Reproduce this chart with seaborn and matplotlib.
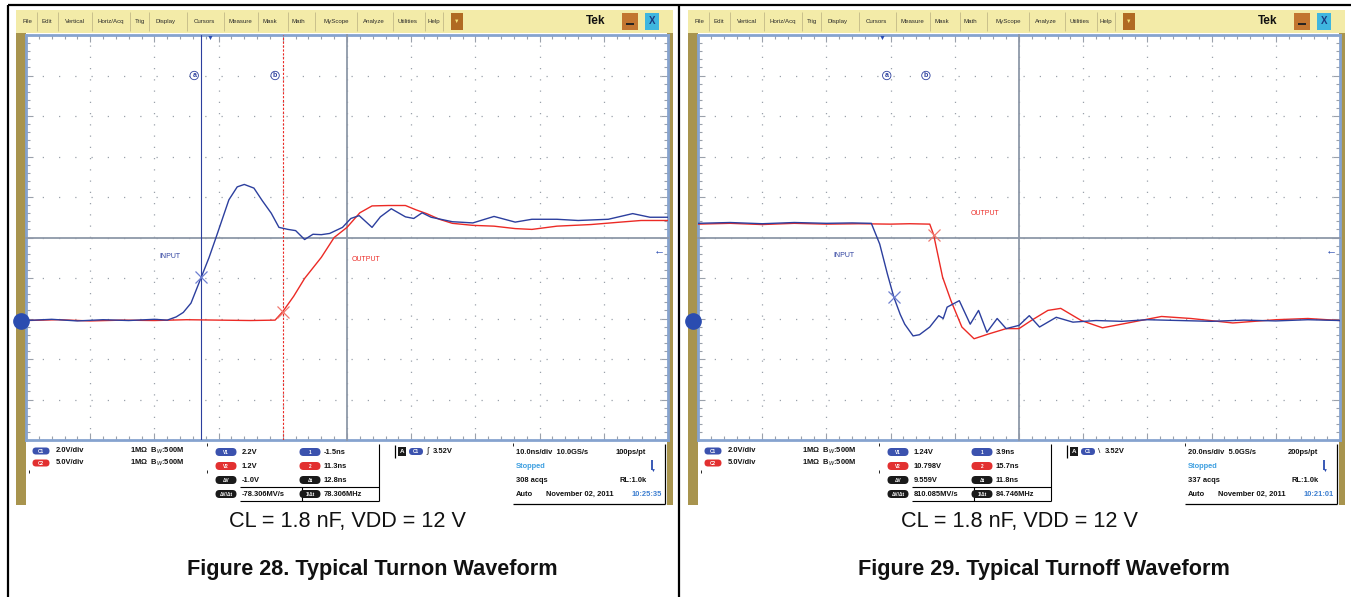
import matplotlib
matplotlib.use("Agg")
import numpy as np
import pandas as pd
import seaborn as sns
import matplotlib.pyplot as plt
from matplotlib.patches import Rectangle, FancyBboxPatch
from matplotlib.ticker import MultipleLocator, NullFormatter

# ---------------- data (graticule divisions) ----------------
# Figure 28: turn-on
on_in_t = [-5, -4.6, -4.2, -3.8, -3.4, -3.0, -2.8, -2.66, -2.55, -2.43, -2.27, -2.15, -2.04, -1.84, -1.71, -1.6,
           -1.45, -1.32, -1.18, -1.06, -0.92, -0.8, -0.66, -0.53, -0.4, -0.27, -0.07, 0.06, 0.19, 0.39, 0.52, 0.69,
           0.91, 1.04, 1.17, 1.31, 1.64, 1.96, 2.29, 2.62, 2.88, 3.27, 3.6, 4.07, 4.45, 4.72, 5.0]
on_in_v = [-2.05, -2.02, -2.06, -2.03, -2.05, -2.02, -2.04, -1.96, -1.85, -1.62, -0.98, -0.5, 0.0, 0.93, 1.25, 1.31,
           1.22, 0.91, 0.6, 0.25, 0.2, 0.17, -0.05, 0.08, 0.07, 0.1, 0.25, 0.47, 0.54, 0.25, 0.51, 0.71,
           0.51, 0.47, 0.61, 0.5, 0.39, 0.36, 0.52, 0.38, 0.45, 0.45, 0.42, 0.45, 0.59, 0.5, 0.5]
on_out_t = [-5, -4.5, -4, -3.5, -3, -2.5, -2, -1.5, -1.12, -1.0, -0.83, -0.66, -0.4, -0.2, 0.0, 0.2, 0.39, 0.65,
            0.91, 1.08, 1.24, 1.44, 1.64, 1.96, 2.29, 2.62, 2.88, 3.27, 3.8, 4.26, 4.58, 5.0]
on_out_v = [-2.05, -2.03, -2.06, -2.04, -2.05, -2.03, -2.04, -2.05, -2.04, -1.83, -1.45, -1.01, -0.49, 0.0, 0.25,
            0.61, 0.78, 0.79, 0.79, 0.68, 0.59, 0.45, 0.35, 0.3, 0.28, 0.22, 0.2, 0.28, 0.32, 0.38, 0.42, 0.42]
# Figure 29: turn-off
off_in_t = [-5, -4.5, -4, -3.5, -3, -2.6, -2.3, -2.17, -2.05, -1.95, -1.85, -1.78, -1.65, -1.55, -1.39, -1.25,
            -1.18, -1.12, -0.93, -0.76, -0.63, -0.5, -0.34, -0.2, 0.0, 0.16, 0.32, 0.58, 0.84, 1.2, 1.6, 2.0,
            2.5, 3.0, 3.5, 4.0, 4.5, 5.0]
off_in_v = [0.35, 0.37, 0.34, 0.37, 0.35, 0.36, 0.35, -0.16, -0.9, -1.47, -1.9, -2.14, -2.43, -2.4, -2.21, -1.93,
            -2.0, -1.72, -1.56, -2.14, -1.8, -2.34, -2.0, -2.25, -2.17, -1.93, -2.21, -1.97, -2.09, -2.05, -2.07,
            -2.03, -2.05, -2.07, -2.04, -2.06, -2.03, -2.05]
off_out_t = [-5, -4.5, -4, -3.5, -3, -2.5, -2, -1.7, -1.39, -1.33, -1.19, -1.06, -0.89, -0.7, -0.47, -0.2, 0.0,
             0.19, 0.45, 0.65, 0.97, 1.3, 1.63, 2.22, 2.68, 3.33, 4.0, 4.5, 5.0]
off_out_v = [0.33, 0.35, 0.32, 0.35, 0.33, 0.34, 0.33, 0.34, 0.33, 0.07, -0.98, -1.56, -2.21, -2.5, -2.38, -2.25,
             -2.25, -2.05, -1.8, -1.75, -2.05, -2.23, -2.13, -1.95, -2.0, -2.11, -2.03, -2.0, -2.05]

# cursor positions / markers
on_cursors = [(-2.27, -0.98), (-1.0, -1.83)]
off_cursors = [(-1.95, -1.47), (-1.33, 0.07)]
ch_offset = -2.07
trig_level = -0.32
trig_pos = -2.13

menu_items = ["File", "Edit", "Vertical", "Horiz/Acq", "Trig", "Display", "Cursors", "Measure", "Mask",
              "Math", "MyScope", "Analyze", "Utilities", "Help"]

on_info = dict(v1="2.2V", v2="1.2V", dv="-1.0V", dvdt="-78.306MV/s", t1="-1.5ns", t2="11.3ns", dt="12.8ns",
               inv="78.306MHz", edge="\u222b", trig="3.52V", hz="10.0ns/div  10.0GS/s", pt="100ps/pt",
               acqs="308 acqs", clock="10:25:35")
off_info = dict(v1="1.24V", v2="10.798V", dv="9.559V", dvdt="810.085MV/s", t1="3.9ns", t2="15.7ns", dt="11.8ns",
                inv="84.746MHz", edge="\\", trig="3.52V", hz="20.0ns/div  5.0GS/s", pt="200ps/pt",
                acqs="337 acqs", clock="10:21:01")

caption = "CL = 1.8 nF, VDD = 12 V"
titles = ["Figure 28. Typical Turnon Waveform", "Figure 29. Typical Turnoff Waveform"]

# ---------------- style ----------------
W, H = 1351, 597
sns.set_theme(style="white")
plt.rcParams['font.family'] = ['Liberation Sans', 'DejaVu Sans']
plt.rcParams['axes.unicode_minus'] = False

BLUE = '#2c3f9e'
RED = '#ec2a25'
PILLB = '#3b52ae'
PILLR = '#e23030'
OLIVE = '#a8944e'
MENU = '#f3eba8'
FRAME = '#86a3cf'
GRID = '#9aa1ab'

fig = plt.figure(figsize=(W / 100, H / 100), dpi=100)
fig.patch.set_facecolor('white')


def overlay(z):
    a = fig.add_axes([0, 0, 1, 1], zorder=z)
    a.set_xlim(0, W)
    a.set_ylim(H, 0)
    a.axis('off')
    a.patch.set_alpha(0)
    return a


bg = overlay(0)


def R(ax, x0, y0, x1, y1, fc, ec='none', lw=0, z=1):
    ax.add_patch(Rectangle((x0, y0), x1 - x0, y1 - y0, facecolor=fc, edgecolor=ec, linewidth=lw, zorder=z))


def L(ax, xs, ys, c='black', lw=0.8, z=2):
    ax.plot(xs, ys, color=c, lw=lw, zorder=z, solid_capstyle='butt')


def T(ax, x, y, s, size=5.4, c='#111111', ha='left', va='center', w='bold', **kw):
    ax.text(x, y, s, fontsize=size, color=c, ha=ha, va=va, fontweight=w, zorder=5, **kw)


def pill(ax, cx, cy, w, h, fc, label):
    ax.add_patch(FancyBboxPatch((cx - w / 2, cy - h / 2), w, h,
                                boxstyle=f"round,pad=0,rounding_size={h / 2}", fc=fc, ec='none', zorder=4))
    T(ax, cx, cy + 0.3, label, size=3.4, c='white', ha='center')


# outer table lines
L(bg, [8, 8], [5, 597], lw=1.6)
L(bg, [8, W], [5, 5], lw=1.6)
L(bg, [679, 679], [5, 597], lw=1.6)


def draw_panel(ox, in_t, in_v, out_t, out_v, cursors, info, lbl_in, lbl_out, show_cursor_lines, title):
    # menubar & frame
    R(bg, 16 + ox, 10, 673 + ox, 33, MENU)
    R(bg, 16 + ox, 33, 26 + ox, 505, OLIVE)
    R(bg, 667 + ox, 33, 673 + ox, 505, OLIVE)
    centers = [27, 47, 75, 111, 140, 166, 204, 240, 270, 298, 336, 374, 408, 434]
    seps = [37, 58, 92, 130, 149, 187, 224, 258, 288, 315, 357, 393, 425, 443]
    for name, cx in zip(menu_items, centers):
        T(bg, cx + ox, 21.5, name, size=4.4, c='#2a2a2a', ha='center', w='normal')
    for sx in seps:
        L(bg, [sx + ox, sx + ox], [12, 31], c='#c9c08c', lw=0.7)
    R(bg, 451 + ox, 13, 463 + ox, 30, '#b06a22', z=2)
    T(bg, 457 + ox, 21, "\u25bc", size=4, c='#f3e27a', ha='center', w='normal')
    T(bg, 596 + ox, 21, "Tek", size=8.5, c='#111111', ha='center')
    R(bg, 622 + ox, 13, 638 + ox, 30, '#c27630', z=2)
    L(bg, [626 + ox, 634 + ox], [24, 24], c='#222222', lw=1.4, z=3)
    R(bg, 645 + ox, 13, 659 + ox, 30, '#3fb6df', z=2)
    T(bg, 652 + ox, 21.5, "X", size=7, c='#1a3a80', ha='center')

    # graticule
    ax = fig.add_axes([(26 + ox) / W, 1 - 440 / H, 642 / W, 405 / H], zorder=5)
    ax.set_xlim(-5, 5)
    ax.set_ylim(-5, 5)
    ax.set_facecolor('white')
    ax.xaxis.set_major_locator(MultipleLocator(1))
    ax.yaxis.set_major_locator(MultipleLocator(1))
    ax.xaxis.set_minor_locator(MultipleLocator(0.2))
    ax.yaxis.set_minor_locator(MultipleLocator(0.2))
    ax.xaxis.set_major_formatter(NullFormatter())
    ax.yaxis.set_major_formatter(NullFormatter())
    ax.tick_params(which='both', direction='in', top=True, right=True, bottom=True, left=True,
                   color=GRID, width=0.8)
    ax.tick_params(which='major', length=5)
    ax.tick_params(which='minor', length=3)
    ax.grid(True, which='major', axis='x', color=GRID, linestyle=(0, (1, 8)), lw=0.9)
    ax.grid(True, which='major', axis='y', color=GRID, linestyle=(0, (1, 12)), lw=0.9)
    for sp in ax.spines.values():
        sp.set_color(FRAME)
        sp.set_linewidth(2)

    # center cross with ticks
    ax2 = fig.add_axes(ax.get_position(), zorder=6)
    ax2.set_xlim(-5, 5)
    ax2.set_ylim(-5, 5)
    ax2.patch.set_alpha(0)
    ax2.spines['left'].set_position(('data', 0))
    ax2.spines['bottom'].set_position(('data', 0))
    ax2.spines['top'].set_visible(False)
    ax2.spines['right'].set_visible(False)
    for s in ('left', 'bottom'):
        ax2.spines[s].set_color('#8e98a8')
        ax2.spines[s].set_linewidth(1.3)
    ax2.xaxis.set_major_locator(MultipleLocator(1))
    ax2.yaxis.set_major_locator(MultipleLocator(1))
    ax2.xaxis.set_minor_locator(MultipleLocator(0.2))
    ax2.yaxis.set_minor_locator(MultipleLocator(0.2))
    ax2.xaxis.set_major_formatter(NullFormatter())
    ax2.yaxis.set_major_formatter(NullFormatter())
    ax2.tick_params(which='both', direction='inout', color='#8e98a8', width=0.8, length=5)
    ax2.grid(False)

    # traces
    df_in = pd.DataFrame({'t': in_t, 'v': in_v})
    df_out = pd.DataFrame({'t': out_t, 'v': out_v})
    sns.lineplot(data=df_out, x='t', y='v', ax=ax2, color=RED, lw=1.0, estimator=None, sort=False, zorder=7)
    sns.lineplot(data=df_in, x='t', y='v', ax=ax2, color=BLUE, lw=1.0, estimator=None, sort=False, zorder=8)
    ax2.set_xlabel('')
    ax2.set_ylabel('')
    ax2.set_xlim(-5, 5)
    ax2.set_ylim(-5, 5)

    (ca, ya), (cb, yb) = cursors
    if show_cursor_lines:
        ax2.axvline(ca, color=BLUE, lw=0.8, zorder=6)
        ax2.axvline(cb, color=RED, lw=0.8, ls=(0, (2, 1.5)), zorder=6)
    ax2.plot([ca], [ya], marker='x', ms=8, mew=0.9, color='#6d7ed0', zorder=9)
    ax2.plot([cb], [yb], marker='x', ms=8, mew=0.9, color='#f07a70', zorder=9)
    ax2.text(ca - 0.11, 4.0, "a", fontsize=5, color=BLUE, ha='center', va='center', fontweight='bold',
             bbox=dict(boxstyle='circle,pad=0.1', fc='white', ec=BLUE, lw=0.6))
    ax2.text(cb - 0.12, 4.0, "b", fontsize=5, color=BLUE, ha='center', va='center', fontweight='bold',
             bbox=dict(boxstyle='circle,pad=0.1', fc='white', ec=BLUE, lw=0.6))
    ax2.text(lbl_in[0], lbl_in[1], "INPUT", fontsize=5, color=BLUE, ha='center', va='center')
    ax2.text(lbl_out[0], lbl_out[1], "OUTPUT", fontsize=5, color=RED, ha='center', va='center')
    ax2.plot([-5.08], [ch_offset], marker='o', ms=11, color='#2a4cb0', clip_on=False, zorder=10)
    ax2.text(4.95, trig_level, "\u2190", fontsize=8, color='#2a4cb0', ha='right', va='center')
    ax2.text(trig_pos, 5.0, "\u25bc", fontsize=5, color='#2a4cb0', ha='center', va='top')

    # info panel
    r1, r2 = 451, 463
    pill(bg, 41 + ox, r1, 17, 7, PILLB, "C1")
    pill(bg, 41 + ox, r2, 17, 7, PILLR, "C2")
    T(bg, 56 + ox, r1, "2.0V/div")
    T(bg, 56 + ox, r2, "5.0V/div")
    T(bg, 130 + ox, r1, "1M\u03a9  B$_W$:500M")
    T(bg, 130 + ox, r2, "1M\u03a9  B$_W$:500M")
    rows = [452, 466, 480, 494]
    cols = [(226, PILLB, "V1", 'v1'), (226, PILLR, "V2", 'v2'), (226, '#1a1a1a', "\u0394V", 'dv'),
            (226, '#1a1a1a', "\u0394V/\u0394t", 'dvdt')]
    for (cx, c, lab, key), ry in zip(cols, rows):
        pill(bg, cx + ox, ry, 21, 8, c, lab)
        T(bg, 242 + ox, ry, info[key])
    cols2 = [(310, PILLB, "1", 't1'), (310, PILLR, "2", 't2'), (310, '#1a1a1a', "\u0394t", 'dt'),
             (310, '#1a1a1a', "1/\u0394t", 'inv')]
    for (cx, c, lab, key), ry in zip(cols2, rows):
        pill(bg, cx + ox, ry, 21, 8, c, lab)
        T(bg, 324 + ox, ry, info[key])
    L(bg, [379 + ox, 379 + ox], [444, 501], lw=0.8)
    L(bg, [240 + ox, 379 + ox], [487, 487], lw=0.8)
    L(bg, [240 + ox, 379 + ox], [501, 501], lw=0.8)
    L(bg, [302 + ox, 302 + ox], [487, 501], lw=0.8)
    L(bg, [207 + ox, 207 + ox], [443, 446], lw=0.6)
    L(bg, [207 + ox, 207 + ox], [470, 473], lw=0.6)
    L(bg, [29 + ox, 29 + ox], [470, 473], lw=0.6)
    # trigger
    L(bg, [395 + ox, 395 + ox], [445, 458], lw=0.9)
    R(bg, 398 + ox, 447, 406 + ox, 456, '#1a1a1a', z=3)
    T(bg, 402 + ox, 451.5, "A", size=4.5, c='white', ha='center')
    pill(bg, 416 + ox, 451.5, 14, 7, PILLB, "C1")
    T(bg, 426 + ox, 451.5, info['edge'], size=6, w='normal')
    T(bg, 433 + ox, 451.5, info['trig'])
    # horizontal / acquisition
    L(bg, [665 + ox, 665 + ox], [444, 504], lw=0.9)
    L(bg, [513 + ox, 665 + ox], [504, 504], lw=0.9)
    L(bg, [513 + ox, 513 + ox], [443, 446], lw=0.6)
    T(bg, 516 + ox, rows[0], info['hz'])
    T(bg, 616 + ox, rows[0], info['pt'])
    T(bg, 516 + ox, rows[1], "Stopped", c='#3d9fe0')
    L(bg, [652 + ox, 652 + ox], [460, 470], c='#2a4cb0', lw=1.3)
    T(bg, 652 + ox, 470, "\u25bc", size=3.5, c='#2a4cb0', ha='center', w='normal')
    T(bg, 516 + ox, rows[2], info['acqs'])
    T(bg, 620 + ox, rows[2], "RL:1.0k")
    T(bg, 516 + ox, rows[3], "Auto")
    T(bg, 546 + ox, rows[3], "November 02, 2011")
    T(bg, 662 + ox, rows[3], info['clock'], c='#3d7fd0', ha='right')

    # captions
    T(bg, 347 + ox, 522, caption, size=15.6, w='normal', ha='center')
    T(bg, 372 + ox, 570, title, size=15.6, w='bold', ha='center')


draw_panel(0, on_in_t, on_in_v, on_out_t, on_out_v, on_cursors, on_info, (-2.76, -0.47), (0.29, -0.54),
           True, titles[0])
draw_panel(672, off_in_t, off_in_v, off_out_t, off_out_v, off_cursors, off_info, (-2.73, -0.45), (-0.53, 0.6),
           False, titles[1])

fig.savefig("out.png", dpi=100, facecolor='white')
